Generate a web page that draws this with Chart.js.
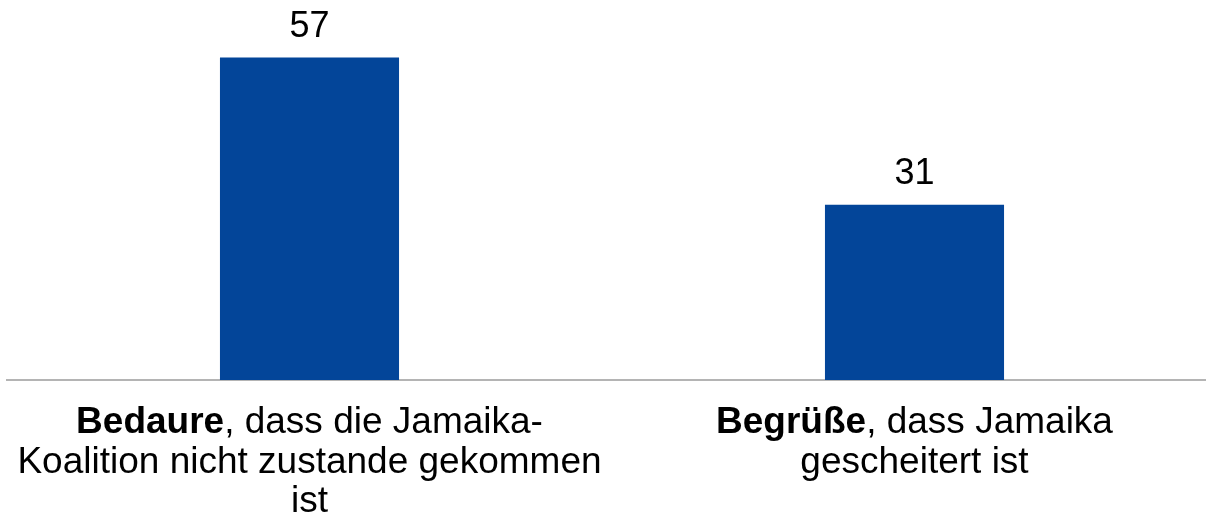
<!DOCTYPE html>
<html>
<head>
<meta charset="utf-8">
<script src="https://cdn.jsdelivr.net/npm/chart.js@4.4.1/dist/chart.umd.min.js"></script>
<style>
  html, body { margin: 0; padding: 0; background: #fff; overflow: hidden; }
  #wrap { width: 1220px; height: 519px; }
</style>
</head>
<body>
<div id="wrap"><canvas id="chart"></canvas></div>
<script>
// Kategorien (fett gedruckter Teil) und Zeilenumbrüche der Beschriftung
const categories = ['Bedaure', 'Begrüße'];
const categoryLines = [
  ['Bedaure, dass die Jamaika-', 'Koalition nicht zustande gekommen', 'ist'],
  ['Begrüße, dass Jamaika', 'gescheitert ist']
];
const values = [57, 31];

const FONT = '"Liberation Sans", Arial, sans-serif';

// Beschriftungen unter der Achse + Werte über den Balken
const labelPlugin = {
  id: 'labels',
  afterDatasetsDraw(chart) {
    const ctx = chart.ctx;
    const x = chart.scales.x;
    const meta = chart.getDatasetMeta(0);
    ctx.save();
    ctx.fillStyle = '#000';
    ctx.textBaseline = 'alphabetic';

    // Werte
    ctx.font = '36px ' + FONT;
    ctx.textAlign = 'center';
    meta.data.forEach((bar, i) => {
      ctx.fillText(String(values[i]), bar.x, bar.y - 21);
    });

    // Kategorien, mehrzeilig, erstes Wort fett
    ctx.textAlign = 'left';
    categoryLines.forEach((lines, i) => {
      const cx = x.getPixelForValue(i);
      lines.forEach((line, j) => {
        const y = x.bottom + 53 + j * 39.5;
        let bold = '';
        let rest = line;
        if (line.startsWith(categories[i])) {
          bold = categories[i];
          rest = line.slice(bold.length);
        }
        ctx.font = 'bold 37px ' + FONT;
        const bw = ctx.measureText(bold).width;
        ctx.font = '37px ' + FONT;
        const rw = ctx.measureText(rest).width;
        let sx = cx - (bw + rw) / 2;
        ctx.font = 'bold 37px ' + FONT;
        ctx.fillText(bold, sx, y);
        ctx.font = '37px ' + FONT;
        ctx.fillText(rest, sx + bw, y);
      });
    });
    ctx.restore();
  }
};

const ctx = document.getElementById('chart').getContext('2d');
new Chart(ctx, {
  type: 'bar',
  data: {
    labels: categories,
    datasets: [{
      data: values,
      backgroundColor: '#034599',
      borderWidth: 0,
      barPercentage: 0.296,
      categoryPercentage: 1
    }]
  },
  options: {
    responsive: true,
    maintainAspectRatio: false,
    animation: false,
    layout: { padding: { left: 7, right: 3, top: 1, bottom: 139 } },
    plugins: {
      legend: { display: false },
      tooltip: { enabled: false },
      title: { display: false }
    },
    scales: {
      x: {
        grid: { display: false, drawTicks: false },
        border: { display: true, color: '#b4b4b4', width: 2 },
        ticks: { display: false }
      },
      y: {
        display: false,
        min: 0,
        max: 67
      }
    }
  },
  plugins: [labelPlugin]
});
</script>
</body>
</html>
